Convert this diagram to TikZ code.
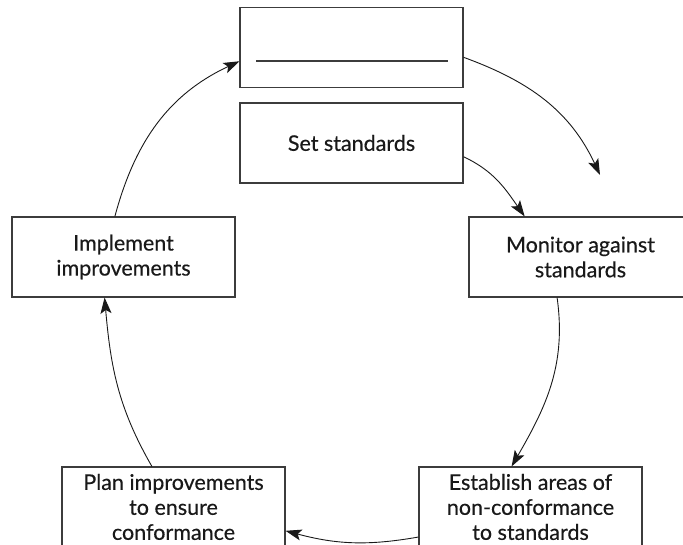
\documentclass[tikz,border=0pt]{standalone}
\usepackage{fontspec}
\setmainfont[FakeBold=0.4,AutoFakeBold=0.4]{Lato}
\usetikzlibrary{arrows.meta}
\definecolor{boxgray}{RGB}{60,60,60}
\definecolor{inkblack}{RGB}{25,25,25}
\tikzset{
		stageBox/.style = {draw=boxgray, line width=1.1pt, text=inkblack, minimum width=223pt, minimum height=80pt, inner sep=0pt, align=center, font=\fontsize{21.5}{25}\selectfont\bfseries},
		cycleArrow/.style = {line width=0.9pt, draw=inkblack, -{Stealth[length=16pt,width=11pt,inset=3.5pt]}}
}

\begin{document}
\begin{tikzpicture}[x=1pt,y=-1pt]
  \useasboundingbox (0,0) rectangle (683,545);
  \clip (0,0) rectangle (683,545);

  \node [stageBox] (blank)      at (351.5,47.5) {};
  \node [stageBox] (set)        at (351.5,143)  {Set standards};
  \node [stageBox] (monitor)    at (580.5,257)  {Monitor against\\standards};
  \node [stageBox] (establish)  at (530.5,507)  {Establish areas of\\non-conformance\\to standards};
  \node [stageBox] (plan)       at (173.5,507)  {Plan improvements\\to ensure\\conformance};
  \node [stageBox] (implement)  at (123.5,257)  {Implement\\improvements};
  \coordinate (blankEnd) at (600,175);

  % empty line in the top box
  \draw [boxgray, line width=1.6pt] ([shift={(-95.5,13.5)}]blank.center) -- ([shift={(96.5,13.5)}]blank.center);

  \draw [cycleArrow] (blank.-5) to[out=-20,in=115] (blankEnd);
  \draw [cycleArrow] (set.-7) to[out=-25,in=125] (monitor.144);
  \draw [cycleArrow] (monitor.-120) to[out=-82,in=60] (establish.115);
  \draw [cycleArrow] (establish.195) to[out=190,in=-15] (plan.-12);
  \draw [cycleArrow] (plan.118) to[out=120,in=-85] (implement.-115);
  \draw [cycleArrow] (implement.102) to[out=75,in=205] (blank.187);
\end{tikzpicture}
\end{document}
